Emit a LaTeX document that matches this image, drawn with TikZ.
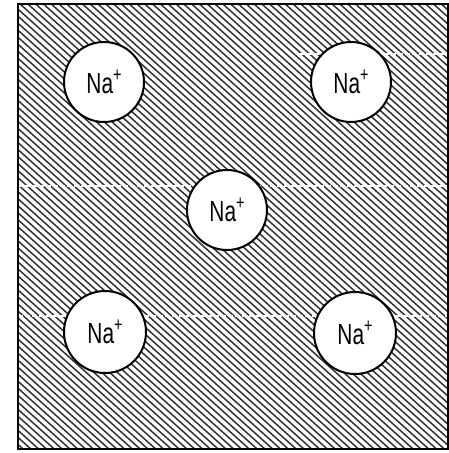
\documentclass[tikz,border=0pt]{standalone}
\usepackage{fontspec}
\setmainfont{Liberation Sans}
\tikzset{
  ion/.style={circle, draw=black, line width=2pt, fill=white, minimum size=80pt, inner sep=0pt,
    font=\fontsize{29}{29}\selectfont},
  hatch/.style={line width=1.5pt, black!80},
  frame/.style={draw=black, line width=1.6pt},
  scanline/.style={white, line width=1.6pt, dash pattern=on 5pt off 2pt}
}
\newcommand{\naion}{\scalebox{0.72}[1]{Na\raisebox{0.42em}{\fontsize{20}{20}\selectfont +}}}
\begin{document}
\begin{tikzpicture}[x=1pt,y=-1pt]
\useasboundingbox[fill=white] (0,0) rectangle (449,453);
\coordinate (sqa) at (18,4);
\coordinate (sqb) at (448,449);
\begin{scope}
  \clip (sqa) rectangle (sqb);
  \foreach \i in {-80,...,58} {
    \draw[hatch] (\i*7.8,0) -- ++(600,540);
  }
  \draw[scanline] (18,186) -- (448,186);
  \draw[scanline] (18,316) -- (448,316);
  \draw[scanline] (300,54) -- (448,54);
\end{scope}
\draw[frame] (sqa) rectangle (sqb);
\node[ion] (tl) at (104,82) {\naion};
\node[ion] (tr) at (351,82) {\naion};
\node[ion] (c) at (227,210) {\naion};
\node[ion, minimum size=82pt] (bl) at (105,332) {\naion};
\node[ion, minimum size=82pt] (br) at (355,333) {\naion};
\end{tikzpicture}
\end{document}
